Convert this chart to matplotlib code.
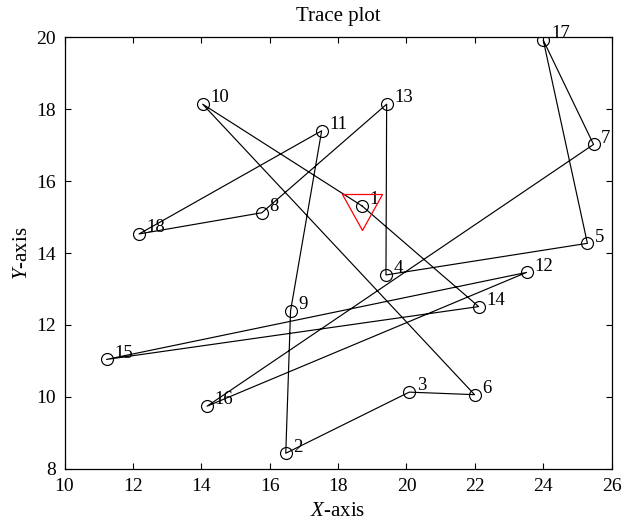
import matplotlib
matplotlib.use("Agg")
import matplotlib.pyplot as plt

plt.rcParams['font.family'] = ['Liberation Serif', 'DejaVu Serif']
plt.rcParams['mathtext.fontset'] = 'custom'
plt.rcParams['mathtext.rm'] = 'Liberation Serif'
plt.rcParams['mathtext.it'] = 'Liberation Serif:italic'

# point coordinates (index 1..18)
labels = [str(i) for i in range(1, 19)]
xs = [18.70, 16.47, 20.08, 19.40, 25.29, 21.99, 25.47, 15.77, 16.61,
      14.04, 17.52, 23.51, 19.42, 22.11, 11.23, 14.17, 24.00, 12.18]
ys = [15.31, 8.43, 10.13, 13.39, 14.27, 10.06, 17.02, 15.12, 12.39,
      18.14, 17.40, 13.46, 18.14, 12.51, 11.04, 9.74, 19.92, 14.53]
# visiting order of the trace (closed tour)
order = [1, 10, 6, 3, 2, 9, 11, 18, 8, 13, 4, 5, 17, 7, 16, 12, 15, 14, 1]
start_x, start_y = 18.70, 15.14

xticks = [10, 12, 14, 16, 18, 20, 22, 24, 26]
yticks = [8, 10, 12, 14, 16, 18, 20]

fig = plt.figure(figsize=(6.22, 5.27), dpi=100)
ax = fig.add_axes([0.1037, 0.1106, 0.8797, 0.8186])

tx = [xs[i - 1] for i in order]
ty = [ys[i - 1] for i in order]
ax.plot(tx, ty, color='black', lw=0.85, zorder=2)
ax.plot(xs, ys, linestyle='none', marker='o', ms=8.6, mfc='none',
        mec='black', mew=0.85, zorder=3)
ax.plot([start_x], [start_y], linestyle='none',
        marker=[(-1, 0.9), (1, 0.9), (0, -0.9), (-1, 0.9)], ms=28.8,
        mfc='none', mec='red', mew=0.9, zorder=4)

for lab, x, y in zip(labels, xs, ys):
    ax.annotate(lab, (x, y), xytext=(5.5, 4.5), textcoords='offset points',
                ha='left', va='center', fontsize=13.5)

ax.set_xlim(10, 26)
ax.set_ylim(8, 20)
ax.set_xticks(xticks)
ax.set_yticks(yticks)
ax.tick_params(direction='in', length=4, width=0.8, top=True, right=True,
               labelsize=14)
ax.tick_params(axis='x', pad=6.5)
ax.tick_params(axis='y', pad=6)
for s in ax.spines.values():
    s.set_linewidth(0.9)

ax.set_title('Trace plot', fontsize=15, pad=12)
ax.set_xlabel(r'$X$-axis', fontsize=15, labelpad=5)
ax.set_ylabel(r'$Y$-axis', fontsize=15, labelpad=3)

fig.savefig('out.png', dpi=100)
